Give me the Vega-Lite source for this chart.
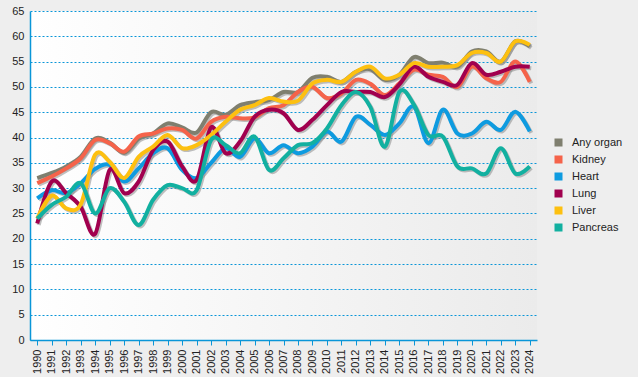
{
  "$schema": "https://vega.github.io/schema/vega-lite/v6.json",
  "autosize": "none",
  "width": 507,
  "height": 329,
  "padding": {"left": 30, "top": 11, "right": 101, "bottom": 37},
  "background": "#eeeeee",
  "config": {
    "view": {"stroke": null, "fill": {"gradient": "linear", "x1": 0, "y1": 0, "x2": 1, "y2": 0, "stops": [{"offset": 0, "color": "#ffffff"}, {"offset": 1, "color": "#ebebeb"}]}},
    "font": "Liberation Sans",
    "axis": {"labelFont": "Liberation Sans", "labelFontSize": 11, "labelColor": "#222222", "title": null},
    "legend": {"labelFont": "Liberation Sans", "labelFontSize": 11, "labelColor": "#222222"}
  },
  "data": {"values": [
    {"year":"1990","series":"Any organ","value":32},{"year":"1991","series":"Any organ","value":33},{"year":"1992","series":"Any organ","value":34.3},{"year":"1993","series":"Any organ","value":36.2},{"year":"1994","series":"Any organ","value":39.8},{"year":"1995","series":"Any organ","value":39},{"year":"1996","series":"Any organ","value":37},{"year":"1997","series":"Any organ","value":39.8},{"year":"1998","series":"Any organ","value":40.8},{"year":"1999","series":"Any organ","value":42.8},{"year":"2000","series":"Any organ","value":42},{"year":"2001","series":"Any organ","value":41},{"year":"2002","series":"Any organ","value":45},{"year":"2003","series":"Any organ","value":44.5},{"year":"2004","series":"Any organ","value":46.4},{"year":"2005","series":"Any organ","value":47},{"year":"2006","series":"Any organ","value":47.4},{"year":"2007","series":"Any organ","value":49},{"year":"2008","series":"Any organ","value":49},{"year":"2009","series":"Any organ","value":51.8},{"year":"2010","series":"Any organ","value":52},{"year":"2011","series":"Any organ","value":51},{"year":"2012","series":"Any organ","value":53},{"year":"2013","series":"Any organ","value":53.5},{"year":"2014","series":"Any organ","value":51.4},{"year":"2015","series":"Any organ","value":52.4},{"year":"2016","series":"Any organ","value":55.9},{"year":"2017","series":"Any organ","value":54.7},{"year":"2018","series":"Any organ","value":54.8},{"year":"2019","series":"Any organ","value":54},{"year":"2020","series":"Any organ","value":57},{"year":"2021","series":"Any organ","value":57},{"year":"2022","series":"Any organ","value":55},{"year":"2023","series":"Any organ","value":59},{"year":"2024","series":"Any organ","value":58},
    {"year":"1990","series":"Kidney","value":31},{"year":"1991","series":"Kidney","value":32.3},{"year":"1992","series":"Kidney","value":33.9},{"year":"1993","series":"Kidney","value":35.9},{"year":"1994","series":"Kidney","value":39.5},{"year":"1995","series":"Kidney","value":38.9},{"year":"1996","series":"Kidney","value":37.2},{"year":"1997","series":"Kidney","value":40.2},{"year":"1998","series":"Kidney","value":40.8},{"year":"1999","series":"Kidney","value":41.8},{"year":"2000","series":"Kidney","value":41.5},{"year":"2001","series":"Kidney","value":39.8},{"year":"2002","series":"Kidney","value":43.1},{"year":"2003","series":"Kidney","value":44.1},{"year":"2004","series":"Kidney","value":43.8},{"year":"2005","series":"Kidney","value":44},{"year":"2006","series":"Kidney","value":45.8},{"year":"2007","series":"Kidney","value":46.4},{"year":"2008","series":"Kidney","value":49},{"year":"2009","series":"Kidney","value":50},{"year":"2010","series":"Kidney","value":47.8},{"year":"2011","series":"Kidney","value":48.7},{"year":"2012","series":"Kidney","value":51.4},{"year":"2013","series":"Kidney","value":50.6},{"year":"2014","series":"Kidney","value":48.4},{"year":"2015","series":"Kidney","value":50.7},{"year":"2016","series":"Kidney","value":53.4},{"year":"2017","series":"Kidney","value":52.4},{"year":"2018","series":"Kidney","value":52},{"year":"2019","series":"Kidney","value":50},{"year":"2020","series":"Kidney","value":54},{"year":"2021","series":"Kidney","value":51.7},{"year":"2022","series":"Kidney","value":51},{"year":"2023","series":"Kidney","value":55},{"year":"2024","series":"Kidney","value":51},
    {"year":"1990","series":"Heart","value":28},{"year":"1991","series":"Heart","value":29.6},{"year":"1992","series":"Heart","value":29},{"year":"1993","series":"Heart","value":31},{"year":"1994","series":"Heart","value":33.8},{"year":"1995","series":"Heart","value":34.6},{"year":"1996","series":"Heart","value":31.3},{"year":"1997","series":"Heart","value":33.9},{"year":"1998","series":"Heart","value":36.9},{"year":"1999","series":"Heart","value":37.9},{"year":"2000","series":"Heart","value":33.6},{"year":"2001","series":"Heart","value":32},{"year":"2002","series":"Heart","value":35},{"year":"2003","series":"Heart","value":37.9},{"year":"2004","series":"Heart","value":36.2},{"year":"2005","series":"Heart","value":39.8},{"year":"2006","series":"Heart","value":36.9},{"year":"2007","series":"Heart","value":38.5},{"year":"2008","series":"Heart","value":36.9},{"year":"2009","series":"Heart","value":38.2},{"year":"2010","series":"Heart","value":41.2},{"year":"2011","series":"Heart","value":39.2},{"year":"2012","series":"Heart","value":44.1},{"year":"2013","series":"Heart","value":42.5},{"year":"2014","series":"Heart","value":40.5},{"year":"2015","series":"Heart","value":42.8},{"year":"2016","series":"Heart","value":46.1},{"year":"2017","series":"Heart","value":38.9},{"year":"2018","series":"Heart","value":45.5},{"year":"2019","series":"Heart","value":40.8},{"year":"2020","series":"Heart","value":40.8},{"year":"2021","series":"Heart","value":43.1},{"year":"2022","series":"Heart","value":41.5},{"year":"2023","series":"Heart","value":45.1},{"year":"2024","series":"Heart","value":41.2},
    {"year":"1990","series":"Lung","value":23},{"year":"1991","series":"Lung","value":31.3},{"year":"1992","series":"Lung","value":29},{"year":"1993","series":"Lung","value":26.3},{"year":"1994","series":"Lung","value":21},{"year":"1995","series":"Lung","value":33.6},{"year":"1996","series":"Lung","value":29},{"year":"1997","series":"Lung","value":31.3},{"year":"1998","series":"Lung","value":37.5},{"year":"1999","series":"Lung","value":39.2},{"year":"2000","series":"Lung","value":34.3},{"year":"2001","series":"Lung","value":31.6},{"year":"2002","series":"Lung","value":42},{"year":"2003","series":"Lung","value":36.9},{"year":"2004","series":"Lung","value":39.2},{"year":"2005","series":"Lung","value":44.1},{"year":"2006","series":"Lung","value":45.5},{"year":"2007","series":"Lung","value":44.8},{"year":"2008","series":"Lung","value":41.5},{"year":"2009","series":"Lung","value":43.5},{"year":"2010","series":"Lung","value":46.4},{"year":"2011","series":"Lung","value":49},{"year":"2012","series":"Lung","value":49},{"year":"2013","series":"Lung","value":49},{"year":"2014","series":"Lung","value":48},{"year":"2015","series":"Lung","value":50.5},{"year":"2016","series":"Lung","value":54},{"year":"2017","series":"Lung","value":52},{"year":"2018","series":"Lung","value":51},{"year":"2019","series":"Lung","value":50.4},{"year":"2020","series":"Lung","value":54.7},{"year":"2021","series":"Lung","value":52.4},{"year":"2022","series":"Lung","value":53},{"year":"2023","series":"Lung","value":54},{"year":"2024","series":"Lung","value":54},
    {"year":"1990","series":"Liver","value":24},{"year":"1991","series":"Liver","value":28.5},{"year":"1992","series":"Liver","value":26},{"year":"1993","series":"Liver","value":26.8},{"year":"1994","series":"Liver","value":36.6},{"year":"1995","series":"Liver","value":35.2},{"year":"1996","series":"Liver","value":32},{"year":"1997","series":"Liver","value":36.2},{"year":"1998","series":"Liver","value":38.2},{"year":"1999","series":"Liver","value":40.5},{"year":"2000","series":"Liver","value":37.9},{"year":"2001","series":"Liver","value":38.5},{"year":"2002","series":"Liver","value":40.5},{"year":"2003","series":"Liver","value":43.1},{"year":"2004","series":"Liver","value":45.5},{"year":"2005","series":"Liver","value":46.4},{"year":"2006","series":"Liver","value":47.8},{"year":"2007","series":"Liver","value":47.1},{"year":"2008","series":"Liver","value":47.3},{"year":"2009","series":"Liver","value":50.7},{"year":"2010","series":"Liver","value":51.4},{"year":"2011","series":"Liver","value":51},{"year":"2012","series":"Liver","value":53},{"year":"2013","series":"Liver","value":54},{"year":"2014","series":"Liver","value":51.7},{"year":"2015","series":"Liver","value":52.4},{"year":"2016","series":"Liver","value":54.7},{"year":"2017","series":"Liver","value":54},{"year":"2018","series":"Liver","value":54},{"year":"2019","series":"Liver","value":54.3},{"year":"2020","series":"Liver","value":56.7},{"year":"2021","series":"Liver","value":56.7},{"year":"2022","series":"Liver","value":55},{"year":"2023","series":"Liver","value":59},{"year":"2024","series":"Liver","value":58.3},
    {"year":"1990","series":"Pancreas","value":24},{"year":"1991","series":"Pancreas","value":26.7},{"year":"1992","series":"Pancreas","value":28.3},{"year":"1993","series":"Pancreas","value":31},{"year":"1994","series":"Pancreas","value":25},{"year":"1995","series":"Pancreas","value":30},{"year":"1996","series":"Pancreas","value":27.3},{"year":"1997","series":"Pancreas","value":22.7},{"year":"1998","series":"Pancreas","value":27.7},{"year":"1999","series":"Pancreas","value":30.6},{"year":"2000","series":"Pancreas","value":30},{"year":"2001","series":"Pancreas","value":29.6},{"year":"2002","series":"Pancreas","value":39.5},{"year":"2003","series":"Pancreas","value":38.5},{"year":"2004","series":"Pancreas","value":36.9},{"year":"2005","series":"Pancreas","value":40.2},{"year":"2006","series":"Pancreas","value":33.6},{"year":"2007","series":"Pancreas","value":35.9},{"year":"2008","series":"Pancreas","value":38.5},{"year":"2009","series":"Pancreas","value":38.9},{"year":"2010","series":"Pancreas","value":41.8},{"year":"2011","series":"Pancreas","value":46.4},{"year":"2012","series":"Pancreas","value":49},{"year":"2013","series":"Pancreas","value":46},{"year":"2014","series":"Pancreas","value":38.2},{"year":"2015","series":"Pancreas","value":49},{"year":"2016","series":"Pancreas","value":46.5},{"year":"2017","series":"Pancreas","value":40.5},{"year":"2018","series":"Pancreas","value":40.2},{"year":"2019","series":"Pancreas","value":34.3},{"year":"2020","series":"Pancreas","value":33.9},{"year":"2021","series":"Pancreas","value":32.9},{"year":"2022","series":"Pancreas","value":37.9},{"year":"2023","series":"Pancreas","value":32.9},{"year":"2024","series":"Pancreas","value":34.3}
  ]},
  "encoding": {
    "x": {"field": "year", "type": "ordinal", "scale": {"type": "point", "padding": 0.5},
      "axis": {"labelAngle": -90, "labelAlign": "right", "labelBaseline": "middle", "labelPadding": 4, "tickSize": 5, "tickColor": "#0a96d8", "domainColor": "#0a96d8", "domainWidth": 1.5, "grid": false}},
    "y": {"field": "value", "type": "quantitative", "scale": {"domain": [0, 65], "nice": false},
      "axis": {"values": [0,5,10,15,20,25,30,35,40,45,50,55,60,65], "ticks": false, "labelPadding": 6, "domainColor": "#0a96d8", "domainWidth": 1.5, "grid": true, "gridColor": "#0a96d8", "gridDash": [2, 2], "gridWidth": 1}}
  },
  "layer": [
    {"mark": {"type": "line", "interpolate": "cardinal", "strokeWidth": 4, "color": "#8c8c8c", "opacity": 0.55, "xOffset": 1.5, "yOffset": 1.5},
      "encoding": {"detail": {"field": "series"}}},
    {"mark": {"type": "line", "interpolate": "cardinal", "strokeWidth": 4},
      "encoding": {"color": {"field": "series", "type": "nominal",
        "scale": {"domain": ["Any organ", "Kidney", "Heart", "Lung", "Liver", "Pancreas"], "range": ["#7f7f6f", "#f5634a", "#0e9be0", "#a1004e", "#fdc010", "#12b0a0"]},
        "legend": {"title": null, "orient": "none", "legendX": 523, "legendY": 126, "symbolType": "square", "symbolSize": 64, "rowPadding": 5, "labelOffset": 8,
          "encode": {"symbols": {"update": {"fill": {"signal": "scale('color', datum.value)"}, "strokeWidth": {"value": 0}, "opacity": {"value": 1}}}}}}}}
  ]
}
